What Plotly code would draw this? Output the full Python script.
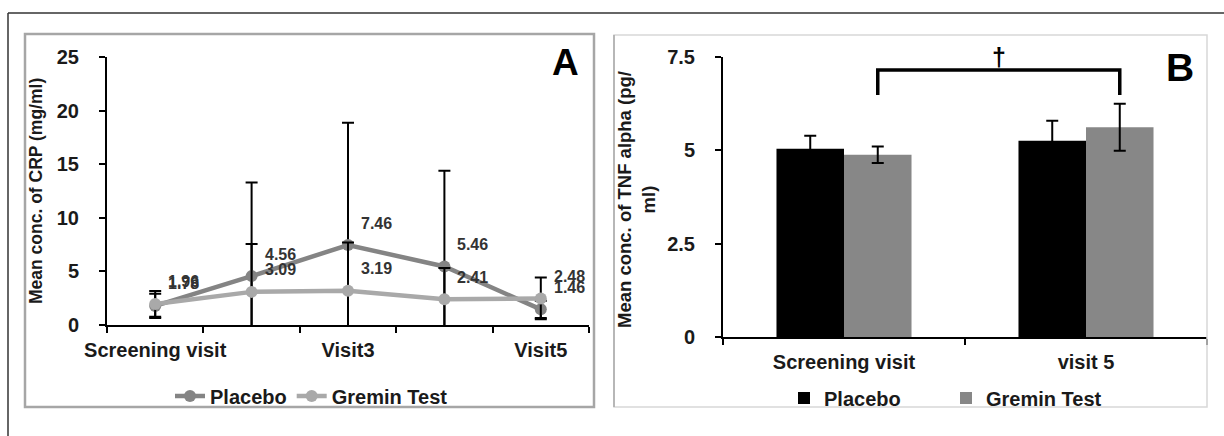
import plotly.graph_objects as go

# ---------------- data ----------------
visits = ["Screening visit", "Visit2", "Visit3", "Visit4", "Visit5"]
visit_labels = ["Screening visit", "", "Visit3", "", "Visit5"]
crp_placebo = [1.78, 4.56, 7.46, 5.46, 1.46]
crp_placebo_sd = [1.13, 8.74, 11.40, 8.94, 0.80]
crp_gremin = [1.96, 3.09, 3.19, 2.41, 2.48]
crp_gremin_sd = [1.20, 4.46, 4.50, 2.90, 1.95]
crp_ticks = [0, 5, 10, 15, 20, 25]

tnf_cats = ["Screening visit", "visit 5"]
tnf_placebo = [5.04, 5.26]
tnf_placebo_sd = [0.35, 0.53]
tnf_gremin = [4.88, 5.62]
tnf_gremin_sd = [0.22, 0.63]
tnf_ticks = [0, 2.5, 5, 7.5]
tnf_ticktext = ["0", "2.5", "5", "7.5"]

W, H = 1224, 436
FONT = "Liberation Sans, Arial, sans-serif"
BOLD = dict(family=FONT, size=20, color="#1a1a1a", weight="bold")

def px_x(p):
    return p / W

def px_y(p):
    return 1 - p / H

fig = go.Figure()

# ---------------- panel A ----------------
fig.add_trace(go.Scatter(
    x=visits, y=crp_placebo, name="Placebo", mode="lines+markers",
    line=dict(color="#848484", width=4.5), marker=dict(size=12, color="#848484"),
    error_y=dict(type="data", array=crp_placebo_sd, color="black", thickness=2, width=6),
    xaxis="x", yaxis="y", legend="legend"))
fig.add_trace(go.Scatter(
    x=visits, y=crp_gremin, name="Gremin Test", mode="lines+markers",
    line=dict(color="#a9a9a9", width=4.5), marker=dict(size=12, color="#a9a9a9"),
    error_y=dict(type="data", array=crp_gremin_sd, color="black", thickness=2, width=6),
    xaxis="x", yaxis="y", legend="legend"))

annotations = []
for series in (crp_placebo, crp_gremin):
    for cat, v in zip(visits, series):
        annotations.append(dict(
            x=cat, y=v, xref="x", yref="y", text=f"{v:.2f}", showarrow=False,
            xanchor="left", yanchor="middle", xshift=11, yshift=22,
            font=dict(family=FONT, size=16, color="#333333", weight="bold")))

# ---------------- panel B ----------------
fig.add_trace(go.Bar(
    x=tnf_cats, y=tnf_placebo, name="Placebo", marker=dict(color="black", line=dict(width=0)),
    error_y=dict(type="data", array=tnf_placebo_sd, color="black", thickness=2, width=6),
    xaxis="x2", yaxis="y2", legend="legend2"))
fig.add_trace(go.Bar(
    x=tnf_cats, y=tnf_gremin, name="Gremin Test", marker=dict(color="#878787", line=dict(width=0)),
    error_y=dict(type="data", array=tnf_gremin_sd, color="black", thickness=2, width=6),
    xaxis="x2", yaxis="y2", legend="legend2"))

bargap = 0.442
bar_w = (1 - bargap) / 2
gremin_off = bar_w / 2

axis_common = dict(showline=True, linecolor="black", linewidth=2, ticks="outside",
                   ticklen=6, tickwidth=2, tickcolor="black", showgrid=False,
                   zeroline=False, tickfont=BOLD, automargin=False)

fig.update_layout(
    width=W, height=H, margin=dict(l=0, r=0, t=0, b=0, pad=0, autoexpand=False),
    paper_bgcolor="white", plot_bgcolor="white",
    barmode="group", bargap=bargap, bargroupgap=0,
    xaxis=dict(domain=[px_x(107), px_x(589)], anchor="y", type="category",
               range=[-0.5, 4.5], tickson="boundaries", tickmode="array", tickangle=0,
               tickvals=visits, ticktext=visit_labels, ticklabelstandoff=6, **axis_common),
    yaxis=dict(domain=[px_y(325), px_y(57)], anchor="x", range=[0, 25],
               tickmode="array", tickvals=crp_ticks, ticklabelstandoff=16, **axis_common),
    xaxis2=dict(domain=[px_x(723), px_x(1207)], anchor="y2", type="category", tickangle=0,
                range=[-0.5, 1.5], tickson="boundaries", ticklabelstandoff=6, **axis_common),
    yaxis2=dict(domain=[px_y(337), px_y(57)], anchor="x2", range=[0, 7.5],
                tickmode="array", tickvals=tnf_ticks, ticktext=tnf_ticktext,
                ticklabelstandoff=16, **axis_common),
    legend=dict(orientation="h", x=px_x(170), xanchor="left", y=px_y(396), yanchor="middle",
                font=BOLD, bgcolor="rgba(0,0,0,0)", itemwidth=30),
    legend2=dict(orientation="h", x=px_x(784), xanchor="left", y=px_y(398), yanchor="middle",
                 font=BOLD, bgcolor="rgba(0,0,0,0)", itemwidth=30,
                 entrywidth=117, entrywidthmode="pixels"),
)

# axis titles, panel letters, significance marker
annotations += [
    dict(x=px_x(36), y=px_y(191), xref="paper", yref="paper", text="Mean conc. of CRP (mg/ml)",
         textangle=-90, showarrow=False, xanchor="center", yanchor="middle",
         font=dict(family=FONT, size=17.5, color="#1a1a1a", weight="bold")),
    dict(x=px_x(636), y=px_y(200), xref="paper", yref="paper",
         text="Mean conc. of TNF alpha (pg/<br>ml)", textangle=-90, showarrow=False,
         xanchor="center", yanchor="middle",
         font=dict(family=FONT, size=18.5, color="#1a1a1a", weight="bold")),
    dict(x=px_x(565), y=px_y(63), xref="paper", yref="paper", text="A", showarrow=False,
         xanchor="center", yanchor="middle",
         font=dict(family=FONT, size=37, color="black", weight="bold")),
    dict(x=px_x(1180), y=px_y(67), xref="paper", yref="paper", text="B", showarrow=False,
         xanchor="center", yanchor="middle",
         font=dict(family=FONT, size=39, color="black", weight="bold")),
    dict(x=0.5 + gremin_off, y=7.15, xref="x2", yref="y2", text="†", showarrow=False,
         xanchor="center", yanchor="bottom", yshift=-3,
         font=dict(family=FONT, size=25, color="black", weight="bold")),
]
fig.update_layout(annotations=annotations)

shapes = [
    # outer frame
    dict(type="line", xref="paper", yref="paper", x0=px_x(8), x1=1, y0=px_y(13), y1=px_y(13),
         line=dict(color="#333333", width=1.5)),
    dict(type="line", xref="paper", yref="paper", x0=px_x(8), x1=px_x(8), y0=px_y(13), y1=0,
         line=dict(color="#333333", width=1.5)),
    # panel A box
    dict(type="rect", xref="paper", yref="paper", x0=px_x(25), x1=px_x(594), y0=px_y(407), y1=px_y(34),
         line=dict(color="#a6a6a6", width=2.5)),
    # panel B box
    dict(type="rect", xref="paper", yref="paper", x0=px_x(614), x1=px_x(1207), y0=px_y(407), y1=px_y(35),
         line=dict(color="#d8d8d8", width=1.5)),
    dict(type="line", xref="paper", yref="paper", x0=px_x(614), x1=px_x(614), y0=px_y(407), y1=px_y(35),
         line=dict(color="#a8a8a8", width=1.5)),
    # significance bracket between Gremin bars
    dict(type="path", xref="x2", yref="y2",
         path=f"M {gremin_off},6.48 L {gremin_off},7.15 L {1 + gremin_off},7.15 L {1 + gremin_off},6.48",
         line=dict(color="black", width=3.5)),
]
fig.update_layout(shapes=shapes)

fig.write_html("out.html", config={"displayModeBar": False},
               post_script="document.body.style.margin='0px';")
